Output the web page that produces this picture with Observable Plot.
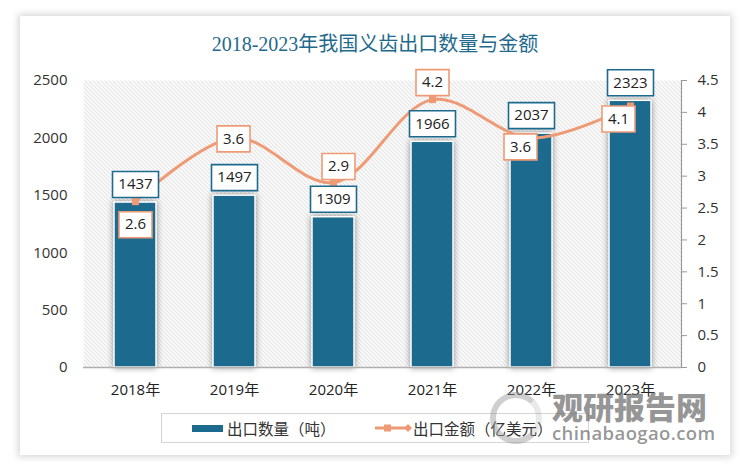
<!DOCTYPE html>
<html>
<head>
<meta charset="utf-8">
<script src="https://cdn.jsdelivr.net/npm/d3@7"></script>
<script src="https://cdn.jsdelivr.net/npm/@observablehq/plot@0.6"></script>
<style>
  html, body { margin: 0; padding: 0; }
  body { width: 750px; height: 472px; background: #fff; position: relative; overflow: hidden;
         font-family: "Open Sans", "Noto Sans CJK SC", sans-serif; }
  #card { position: absolute; left: 20px; top: 16px; width: 710px; height: 439px; background: #fff;
          box-shadow: 0 0 7px 2px rgba(0,0,0,0.16); }
  #title { position: absolute; left: 0; top: 30px; width: 750px; text-align: center;
           font-family: "Liberation Serif", "DejaVu Serif", "Noto Sans CJK SC", serif; font-size: 20px; line-height: 28px; color: #1f6a8c; }
  #chart { position: absolute; left: 0; top: 0; }
  #legend { position: absolute; left: 161px; top: 413px; width: 428px; height: 30px; box-sizing: border-box;
            border: 1px solid #d4d4d4; background: #fff; }
  .lg { position: absolute; font-family: "Noto Sans CJK SC", sans-serif; font-size: 15.5px; line-height: 20px; color: #333; }
  #wm1 { position: absolute; left: 552px; top: 388px; font-family: "Noto Sans CJK SC", sans-serif; font-weight: 900;
         font-size: 31px; line-height: 36px; color: rgba(110,110,110,0.72); }
  #wm2 { position: absolute; left: 552px; top: 421px; font-family: "Open Sans", sans-serif; font-weight: 600;
         font-size: 18.5px; line-height: 24px; color: rgba(110,110,110,0.72); letter-spacing: 0.4px; }
  #wmlogo { position: absolute; left: 490px; top: 392px; width: 40px; height: 40px; border-radius: 50%;
            border: 6px solid rgba(150,150,150,0.45); border-right-color: rgba(150,150,150,0.2); }
</style>
</head>
<body>
<div id="card"></div>
<div id="title">2018-2023年我国义齿出口数量与金额</div>
<div id="chart"></div>
<div id="legend"></div>
<div id="lgswatch" style="position:absolute;left:192px;top:425px;width:31px;height:7px;background:#1c6a8e;"></div>
<div class="lg" style="left:227px;top:418px;">出口数量（吨）</div>
<svg style="position:absolute;left:374px;top:423px;" width="40" height="10">
  <line x1="1" y1="5" x2="36" y2="5" stroke="#ee9b75" stroke-width="3"/>
  <rect x="10" y="1.5" width="7" height="7" fill="#ee9b75"/>
  <path d="M34,1 L38,5 L34,9 L30,5 Z" fill="#ee9b75"/>
</svg>
<div class="lg" style="left:413px;top:418px;">出口金额（亿美元）</div>
<div id="wmlogo"></div>
<div id="wm1">观研报告网</div>
<div id="wm2">chinabaogao.com</div>
<script>
// ---- data ----
const years = ["2018年", "2019年", "2020年", "2021年", "2022年", "2023年"];
const quantity = [1437, 1497, 1309, 1966, 2037, 2323];   // 出口数量（吨）
const amount = [2.6, 3.6, 2.9, 4.2, 3.6, 4.1];            // 出口金额（亿美元）
const leftTicks = [0, 500, 1000, 1500, 2000, 2500];
const rightTicks = [0, 0.5, 1, 1.5, 2, 2.5, 3, 3.5, 4, 4.5];

// ---- layout / style ----
const BLUE = "#1c6a8e";
const ORANGE = "#ee9b75";
const leftMax = 2500, rightMax = 4.5;
const K = leftMax / rightMax; // maps the secondary axis onto the primary scale
const rows = years.map((year, i) => ({year, quantity: quantity[i], amount: amount[i]}));
// label placement (pixel offsets) for the amount labels, like the original chart
const amountLabelOffset = {
  "2018年": [0, 23], "2019年": [-1, 1], "2020年": [5, -16],
  "2021年": [0, -17], "2022年": [-11, 9], "2023年": [-12, 13]
};
const box = (w, h) => ({
  draw(ctx) {
    ctx.moveTo(-w / 2, -h / 2); ctx.lineTo(w / 2, -h / 2);
    ctx.lineTo(w / 2, h / 2); ctx.lineTo(-w / 2, h / 2); ctx.closePath();
  }
});
const amountY = d => d.amount * K;

const amountLabelMarks = years.flatMap(yr => {
  const [dx, dy] = amountLabelOffset[yr];
  const sub = rows.filter(r => r.year === yr);
  return [
    Plot.dot(sub, {x: "year", y: amountY, dx, dy, symbol: box(33, 26), fill: "#fff", stroke: ORANGE, strokeWidth: 1.6}),
    Plot.text(sub, {x: "year", y: amountY, dx, dy, text: d => String(d.amount), fill: "#222"})
  ];
});

const chart = Plot.plot({
  width: 750,
  height: 472,
  marginLeft: 83,
  marginRight: 69,
  marginTop: 80,
  marginBottom: 105,
  style: {fontFamily: '"Open Sans", "Noto Sans CJK SC", sans-serif', fontSize: "15px", color: "#333", background: "transparent", overflow: "visible"},
  x: {domain: years, paddingInner: 0.58, paddingOuter: 0.29, label: null},
  y: {domain: [0, leftMax], label: null},
  marks: [
    Plot.frame({fill: "url(#hatch)", stroke: null}),
    Plot.barY(rows, {x: "year", y: "quantity", fill: BLUE, stroke: "#fff", strokeWidth: 1.5}),
    Plot.ruleY([0], {stroke: "#b0b0b0", strokeWidth: 1.5}),
    Plot.axisX({tickSize: 0, tickPadding: 17, fill: "#222", fontSize: 15}),
    Plot.axisY({ticks: leftTicks, tickFormat: d => String(d), tickSize: 0, tickPadding: 16, fill: "#333", fontSize: 15, label: null}),
    Plot.axisY({anchor: "right", ticks: rightTicks.map(v => v * K), tickFormat: d => String(+(d / K).toFixed(1)),
                tickSize: 5, tickPadding: 11, stroke: "#999", fill: "#333", fontSize: 15, label: null}),
    Plot.frame({anchor: "right", stroke: "#999", strokeWidth: 1.2}),
    Plot.line(rows, {x: "year", y: amountY, curve: "catmull-rom", stroke: ORANGE, strokeWidth: 3}),
    Plot.dot(rows, {x: "year", y: amountY, symbol: "square", r: 4, fill: ORANGE}),
    Plot.dot(rows, {x: "year", y: "quantity", dy: -18, symbol: box(46, 26), fill: "#fff", stroke: BLUE, strokeWidth: 1.6}),
    Plot.text(rows, {x: "year", y: "quantity", dy: -18, text: d => String(d.quantity), fill: "#222"}),
    ...amountLabelMarks
  ]
});

d3.select(chart).insert("defs", ":first-child").html(
  '<pattern id="hatch" width="4" height="4" patternUnits="userSpaceOnUse">' +
  '<rect width="4" height="4" fill="#ffffff"/>' +
  '<path d="M0,0L4,4M-1,3L1,5M3,-1L5,1" stroke="#c9c9c9" stroke-width="0.9"/></pattern>'
);
d3.select(chart).selectAll('g[aria-label="bar"]').style("filter", "drop-shadow(0px 0px 3px rgba(0,0,0,0.45))");
document.getElementById("chart").appendChild(chart);
</script>
</body>
</html>
